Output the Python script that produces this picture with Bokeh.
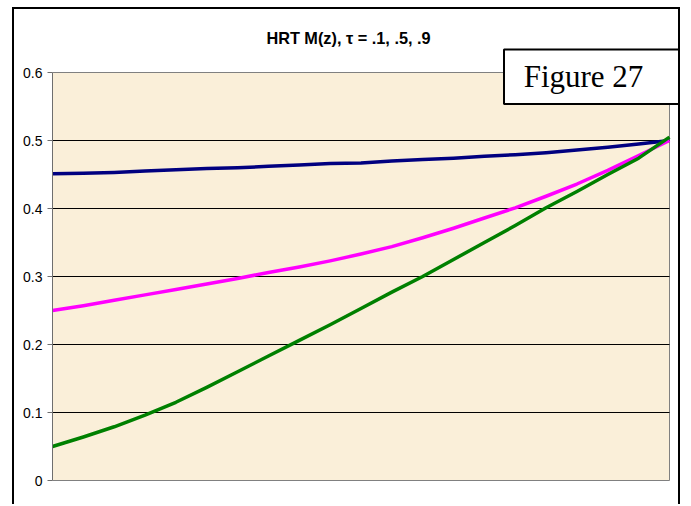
from bokeh.plotting import figure
from bokeh.models import Range1d, FixedTicker, BoxAnnotation, Label
from bokeh.embed import file_html
from bokeh.resources import INLINE

# ---- data ----
z = [0.00, 0.05, 0.10, 0.15, 0.20, 0.25, 0.30, 0.35, 0.40, 0.45, 0.50,
     0.55, 0.60, 0.65, 0.70, 0.75, 0.80, 0.85, 0.90, 0.95, 1.00]
m_tau_09 = [0.451, 0.452, 0.453, 0.455, 0.457, 0.459, 0.460, 0.462, 0.464, 0.466, 0.467,
            0.470, 0.472, 0.474, 0.477, 0.479, 0.482, 0.486, 0.490, 0.495, 0.500]
m_tau_05 = [0.250, 0.257, 0.265, 0.273, 0.281, 0.289, 0.297, 0.306, 0.314, 0.323, 0.333,
            0.344, 0.357, 0.371, 0.386, 0.401, 0.418, 0.436, 0.456, 0.478, 0.500]
m_tau_01 = [0.050, 0.064, 0.079, 0.096, 0.115, 0.137, 0.160, 0.183, 0.206, 0.229, 0.253,
            0.277, 0.300, 0.325, 0.350, 0.375, 0.401, 0.425, 0.450, 0.474, 0.505]
y_ticks = [0, 0.1, 0.2, 0.3, 0.4, 0.5, 0.6]
x_min, x_max = 0, 1
y_min, y_max = 0, 0.6
title_text = "HRT M(z), \u03c4 = .1, .5, .9"
figure_text = "Figure 27"

# ---- layout (page pixels) ----
CANVAS_X, CANVAS_Y = 14, 9          # canvas origin on the page (after margin + border)
CANVAS_W, CANVAS_H = 668, 497
PLOT_L, PLOT_R = 52, 669            # plot-area left/right on the page
PLOT_T, PLOT_B = 72, 480            # plot-area top/bottom on the page
FRAME_L = PLOT_L
FRAME_R = CANVAS_X + CANVAS_W
FRAME_T = CANVAS_Y
FRAME_B = CANVAS_Y + CANVAS_H

sx = (PLOT_R - PLOT_L) / (x_max - x_min)
sy = (PLOT_B - PLOT_T) / (y_max - y_min)


def px2x(px):
    return x_min + (px - PLOT_L) / sx


def py2y(py):
    return y_min + (PLOT_B - py) / sy


p = figure(width=CANVAS_W, height=CANVAS_H, output_backend="svg", toolbar_location=None,
           x_range=Range1d(px2x(FRAME_L), px2x(FRAME_R)),
           y_range=Range1d(py2y(FRAME_B), py2y(FRAME_T)),
           x_axis_location=None, title=None,
           min_border_left=FRAME_L - CANVAS_X, min_border_right=0,
           min_border_top=0, min_border_bottom=0,
           margin=(7, 0, 0, 12),
           styles={"border-left": "2px solid black", "border-top": "2px solid black",
                   "border-right": "2px solid black"})

p.background_fill_color = "white"
p.border_fill_color = "white"
p.outline_line_color = None
p.xgrid.visible = False
p.ygrid.visible = False

# plot area
p.add_layout(BoxAnnotation(left=x_min, right=x_max, bottom=y_min, top=y_max,
                           fill_color="#FAEFD9", fill_alpha=1,
                           line_color="#808080", line_alpha=1, line_width=1,
                           level="underlay"))

# horizontal gridlines
inner = y_ticks[1:-1]
p.segment(x0=x_min, x1=x_max, y0=inner, y1=inner, line_color="black", line_width=1)

ax = p.yaxis[0]
ax.ticker = FixedTicker(ticks=y_ticks)
ax.bounds = (y_min, y_max)
ax.major_label_overrides = {0: "0"}
ax.major_label_text_font = "Liberation Sans"
ax.major_label_text_font_size = "14px"
ax.major_label_text_color = "black"
ax.major_tick_out = 5
ax.major_tick_in = 0
ax.minor_tick_out = 0
ax.minor_tick_in = 0
ax.major_label_standoff = 5
ax.axis_line_color = "#6e6e6e"
ax.major_tick_line_color = "#6e6e6e"

p.line(z, m_tau_09, line_color="#000080", line_width=3.5, line_join="round")
p.line(z, m_tau_05, line_color="#FF00FF", line_width=3.5, line_join="round")
p.line(z, m_tau_01, line_color="#008000", line_width=3.5, line_join="round")

# title
p.add_layout(Label(x=px2x(348), y=py2y(37.5), text=title_text,
                   text_font="Liberation Sans", text_font_style="bold",
                   text_font_size="16.3px", text_align="center",
                   text_baseline="middle", text_color="black"))

# "Figure 27" box
p.add_layout(BoxAnnotation(left=px2x(503.5), right=px2x(681.5),
                           top=py2y(49), bottom=py2y(103.5),
                           fill_color="white", fill_alpha=1,
                           line_color="black", line_alpha=1, line_width=2))
p.add_layout(Label(x=px2x(583), y=py2y(76), text=figure_text,
                   text_font="Liberation Serif", text_font_size="31px",
                   text_align="center", text_baseline="middle",
                   text_color="black"))

open("out.html", "w").write(file_html(p, INLINE))
